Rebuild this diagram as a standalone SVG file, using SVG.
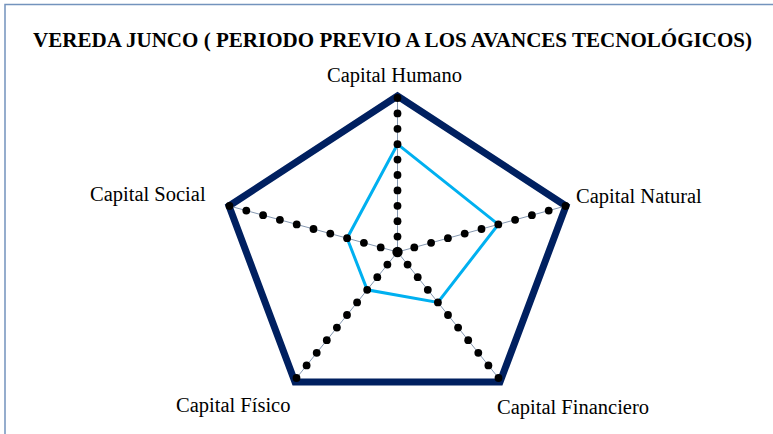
<svg xmlns="http://www.w3.org/2000/svg" width="773" height="434" viewBox="0 0 773 434">
<defs>
<style>
.frame{fill:none;stroke:#7393bd;stroke-width:1.5}
.title{font-family:"Liberation Serif","Times New Roman",serif;font-weight:bold;font-size:20.5px;fill:#000}
.lbl{font-family:"Liberation Serif","Times New Roman",serif;font-size:20.5px;fill:#000}
.outline{fill:none;stroke:#002060;stroke-width:7;stroke-linejoin:miter}
.axis{stroke:#8497b0;stroke-width:1}
.data{fill:none;stroke:#00b0f0;stroke-width:3;stroke-linejoin:miter}
.dot{fill:#000}
</style>
<circle id="d" r="3.9" class="dot"/>
</defs>
<rect width="773" height="434" fill="#fff"/>
<path class="frame" d="M5,434 V4.5 H773"/>
<text class="title" x="33" y="47" textLength="719" lengthAdjust="spacingAndGlyphs">VEREDA JUNCO ( PERIODO PREVIO A LOS AVANCES TECNOLÓGICOS)</text>
<g id="grid">
<polygon class="outline" points="397.5,96 566,206 500,382 295,382 229,206"/>
</g>
<g id="connectors">
<line class="axis" x1="397.5" y1="252" x2="397.5" y2="98"/>
<line class="axis" x1="397.5" y1="252" x2="565.5" y2="206"/>
<line class="axis" x1="397.5" y1="252" x2="498.5" y2="378"/>
<line class="axis" x1="397.5" y1="252" x2="296.5" y2="378"/>
<line class="axis" x1="397.5" y1="252" x2="229.5" y2="206"/>
</g>
<g id="series">
<polygon class="data" points="397.5,144.2 498.3,224.4 437.9,302.4 367.2,289.8 347.1,238.2"/>
</g>
<g id="markers">
<circle cx="397.5" cy="252" r="5.2" class="dot"/>
<use href="#d" x="397.5" y="236.6"/><use href="#d" x="397.5" y="221.2"/><use href="#d" x="397.5" y="205.8"/><use href="#d" x="397.5" y="190.4"/><use href="#d" x="397.5" y="175"/><use href="#d" x="397.5" y="159.6"/><use href="#d" x="397.5" y="144.2"/><use href="#d" x="397.5" y="128.8"/><use href="#d" x="397.5" y="113.4"/><use href="#d" x="397.5" y="98"/>
<use href="#d" x="414.3" y="247.4"/><use href="#d" x="431.1" y="242.8"/><use href="#d" x="447.9" y="238.2"/><use href="#d" x="464.7" y="233.6"/><use href="#d" x="481.5" y="229"/><use href="#d" x="498.3" y="224.4"/><use href="#d" x="515.1" y="219.8"/><use href="#d" x="531.9" y="215.2"/><use href="#d" x="548.7" y="210.6"/><use href="#d" x="565.5" y="206"/>
<use href="#d" x="380.7" y="247.4"/><use href="#d" x="363.9" y="242.8"/><use href="#d" x="347.1" y="238.2"/><use href="#d" x="330.3" y="233.6"/><use href="#d" x="313.5" y="229"/><use href="#d" x="296.7" y="224.4"/><use href="#d" x="279.9" y="219.8"/><use href="#d" x="263.1" y="215.2"/><use href="#d" x="246.3" y="210.6"/><use href="#d" x="229.5" y="206"/>
<use href="#d" x="407.6" y="264.6"/><use href="#d" x="417.7" y="277.2"/><use href="#d" x="427.8" y="289.8"/><use href="#d" x="437.9" y="302.4"/><use href="#d" x="448" y="315"/><use href="#d" x="458.1" y="327.6"/><use href="#d" x="468.2" y="340.2"/><use href="#d" x="478.3" y="352.8"/><use href="#d" x="488.4" y="365.4"/><use href="#d" x="498.5" y="378"/>
<use href="#d" x="387.4" y="264.6"/><use href="#d" x="377.3" y="277.2"/><use href="#d" x="367.2" y="289.8"/><use href="#d" x="357.1" y="302.4"/><use href="#d" x="347" y="315"/><use href="#d" x="336.9" y="327.6"/><use href="#d" x="326.8" y="340.2"/><use href="#d" x="316.7" y="352.8"/><use href="#d" x="306.6" y="365.4"/><use href="#d" x="296.5" y="378"/>
</g>
<g id="label-humano"><text class="lbl" x="327" y="82">Capital Humano</text></g>
<g id="label-natural"><text class="lbl" x="576" y="203">Capital Natural</text></g>
<g id="label-financiero"><text class="lbl" x="497" y="414">Capital Financiero</text></g>
<g id="label-fisico"><text class="lbl" x="176" y="412">Capital Físico</text></g>
<g id="label-social"><text class="lbl" x="90" y="201">Capital Social</text></g>
</svg>
